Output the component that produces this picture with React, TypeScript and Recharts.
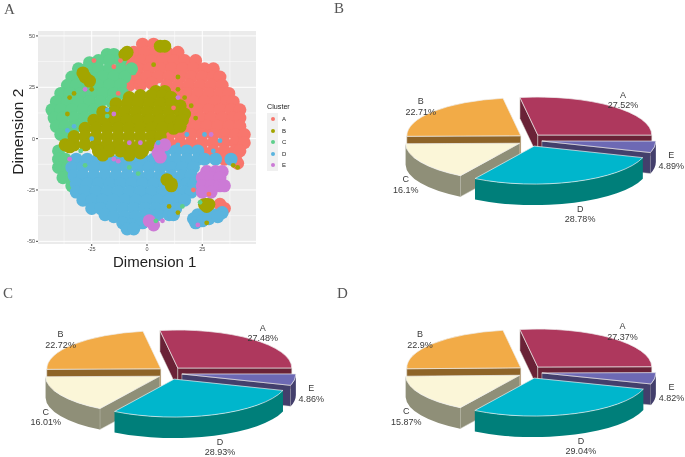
import React from 'react';
import { CartesianGrid, Pie, PieChart, Scatter, ScatterChart, XAxis, YAxis } from 'recharts';

type Pt = [number, number];

const clusterNames = ['A', 'B', 'C', 'D', 'E'];
const clusterColors: Record<string, string> = { A: '#F8766D', B: '#A3A500', C: '#5FCF8C', D: '#5AB4DE', E: '#CC7AD6' };

const xTicks = [-25, 0, 25];
const yTicks = [-50, -25, 0, 25, 50];
const xMinor = [-37.5, -12.5, 12.5, 37.5];
const yMinor = [-37.5, -12.5, 12.5, 37.5];

const clusterA: Pt[] = [
  [-2, 46], [3, 46],
  [-6, 42], [-1, 42], [4, 42], [9, 42], [14, 42],
  [-8, 38], [-3, 38], [2, 38], [7, 38], [12, 38], [17, 38], [22, 38],
  [-9, 34], [-4, 34], [1, 34], [6, 34], [11, 34], [16, 34], [21, 34], [26, 34], [30, 34],
  [-10, 30], [-5, 30], [0, 30], [5, 30], [10, 30], [15, 30], [20, 30], [25, 30], [30, 30], [33, 30],
  [-8, 26], [-3, 26], [2, 27], [9, 26], [14, 26], [19, 26], [24, 26], [29, 26], [34, 26],
  [13, 22], [18, 22], [23, 22], [28, 22], [33, 22], [37, 22],
  [16, 18], [21, 18], [26, 18], [31, 18], [36, 18], [39, 18],
  [18, 14], [23, 14], [28, 14], [33, 14], [38, 14], [42, 14],
  [19, 10], [24, 10], [29, 10], [34, 10], [39, 10], [42, 10],
  [17, 6], [22, 6], [27, 6], [32, 6], [37, 6], [42, 6],
  [10, 2], [15, 2], [20, 2], [25, 2], [30, 2], [35, 2], [40, 2], [44, 2],
  [10, -2], [15, -2], [20, -2], [25, -2], [30, -2], [35, -2], [40, -2], [44, -2],
  [25, -6], [30, -6], [35, -6], [40, -6], [42, -6],
  [35, -10], [40, -10], [41, -12],
  [33, -32], [35, -34],
];

const clusterC: Pt[] = [
  [-18, 41], [-15, 41],
  [-26, 37], [-22, 38], [-17, 38], [-12, 38],
  [-31, 34], [-27, 34], [-22, 34], [-17, 34], [-12, 34], [-7, 34],
  [-34, 30], [-30, 30], [-25, 30], [-20, 30], [-15, 30], [-10, 30],
  [-36, 26], [-32, 26], [-27, 26], [-22, 26], [-17, 26], [-12, 26],
  [-39, 22], [-35, 22], [-30, 22], [-25, 22], [-20, 22], [-15, 22], [-11, 22],
  [-41, 18], [-36, 18], [-31, 18], [-26, 18], [-21, 18], [-16, 18],
  [-43, 14], [-39, 14], [-34, 14], [-29, 14], [-24, 14],
  [-42, 10], [-38, 10], [-33, 10], [-28, 10],
  [-41, 6], [-37, 6], [-32, 6],
  [-39, 2], [-36, 2],
  [-40, -6],
  [-40, -10], [-37, -10],
  [-40, -14], [-36, -14],
  [-38, -19], [-34, -19],
  [-34, -23],
];

const clusterD: Pt[] = [
  [8, -6], [13, -6], [18, -6], [23, -6],
  [-32, -10], [-27, -10], [-22, -10], [-17, -10], [-12, -10], [-7, -10], [-2, -10], [3, -10], [8, -10], [13, -10], [18, -10], [23, -10], [26, -10], [31, -10], [38, -10],
  [-34, -14], [-29, -14], [-24, -14], [-19, -14], [-14, -14], [-9, -14], [-4, -14], [1, -14], [6, -14], [11, -14], [16, -14], [21, -14],
  [-33, -18], [-29, -18], [-24, -18], [-19, -18], [-14, -18], [-9, -18], [-4, -18], [1, -18], [6, -18], [11, -18], [16, -18], [20, -18],
  [-32, -22], [-27, -22], [-22, -22], [-17, -22], [-12, -22], [-7, -22], [-2, -22], [3, -22], [8, -22], [13, -22], [18, -22], [21, -22],
  [-32, -26], [-28, -26], [-23, -26], [-18, -26], [-13, -26], [-8, -26], [-3, -26], [2, -26], [7, -26], [12, -26], [17, -26], [20, -26],
  [-29, -30], [-25, -30], [-20, -30], [-15, -30], [-10, -30], [-5, -30], [0, -30], [5, -30], [10, -30], [15, -30], [17, -30],
  [-25, -34], [-21, -34], [-16, -34], [-11, -34], [-6, -34], [-1, -34], [4, -34], [9, -34], [13, -34],
  [-19, -37], [-15, -38], [-10, -38], [-5, -38], [0, -37], [5, -37], [10, -37], [12, -37],
  [-11, -41], [-7, -42], [-2, -41],
  [-9, -44], [-6, -44],
  [21, -39], [23, -37], [26, -36], [30, -37], [34, -36], [22, -41], [25, -40], [28, -39], [32, -38],
];

const clusterB: Pt[] = [
  [4, 23], [8, 23],
  [-8, 20], [-3, 21], [2, 21], [7, 21], [11, 20],
  [-14, 17], [-9, 17], [-4, 17], [1, 17], [6, 17], [11, 17], [15, 16],
  [-20, 13], [-15, 13], [-10, 13], [-5, 13], [0, 13], [5, 13], [10, 13], [15, 13], [17, 12],
  [-24, 9], [-19, 9], [-14, 9], [-9, 9], [-4, 9], [1, 9], [6, 9], [11, 9], [16, 9],
  [-28, 5], [-23, 5], [-18, 5], [-13, 5], [-8, 5], [-3, 5], [2, 5], [7, 5], [12, 5], [15, 6],
  [-33, 1], [-28, 1], [-23, 1], [-18, 1], [-13, 1], [-8, 1], [-3, 1], [2, 1], [6, 1],
  [-37, -3], [-33, -3], [-28, -3], [-23, -3], [-18, -3], [-13, -3], [-8, -3], [-3, -3], [2, -3], [5, -3],
  [-35, -4], [-22, -6], [-17, -6], [-12, -6], [-7, -6], [-2, -6],
  [-20, -8], [-8, -8], [-3, -7],
  [-28, 30], [-26, 28], [-29, 32],
  [6, 45], [8, 45], [-10, 41], [-9, 42],
  [9, -20], [11, -22], [11, -23],
  [26, -32], [28, -32], [27, -33],
];

const clusterE: Pt[] = [
  [27, -16], [31, -16], [34, -16],
  [25, -19], [29, -19], [33, -19],
  [25, -23], [29, -23], [33, -23], [35, -23],
  [25, -26], [29, -26],
  [6, -4], [8, -3], [5, -7], [6, -9],
  [1, -40], [3, -42],
];

const specksA: Pt[] = [[-12, 38], [-15, 35], [12, 15], [-13, 22], [-24, 38], [28, -27], [21, -25], [-5, 26]];
const specksB: Pt[] = [[14, 24], [20, 16], [17, 20], [22, 10], [14, 30], [39, -13], [41, -14], [3, 36], [-35, 20], [-36, 12], [-33, 22], [14, -36], [27, -41], [10, -33], [-25, 24]];
const specksC: Pt[] = [[-30, -6], [-28, -13], [-8, -14], [-4, -17], [4, -40], [16, -33], [24, -31], [-18, 11], [-6, 32]];
const specksD: Pt[] = [[-33, 6], [-18, 14], [-36, 4], [26, 2], [33, -1], [30, -6], [14, -3], [18, 2], [5, -2], [-25, 0]];
const specksE: Pt[] = [[-28, 24], [-15, -10], [-13, -11], [-8, -2], [-3, -2], [14, 20], [29, 2], [-35, -10], [-15, 12], [23, -42], [7, -40]];

const sliceNames = ['A', 'E', 'D', 'C', 'B'];
const sharesB = [27.52, 4.89, 28.78, 16.1, 22.71];
const sharesC = [27.48, 4.86, 28.93, 16.01, 22.72];
const sharesD = [27.37, 4.82, 29.04, 15.87, 22.9];

// painted back to front, not in the order the slices go round the pie
const paintOrder = ['A', 'B', 'C', 'E', 'D'];

const topColors: Record<string, string> = { A: '#AE385D', E: '#6D69B4', D: '#00B6CC', C: '#FBF6D8', B: '#F2AB47' };
const wallColors: Record<string, string> = { A: '#6A2237', E: '#433F6C', D: '#007F7A', C: '#8F8F78', B: '#8E6428' };

const RX = 114;
const RY = 38;
const DEPTH = 21;

const pt = (cx: number, cy: number, deg: number) => {
  const a = (deg * Math.PI) / 180;
  return [cx + RX * Math.cos(a), cy - RY * Math.sin(a)];
};

const sliceShape = (only: string) => (props: any) => {
  const { cx, cy, startAngle, endAngle, name } = props;
  if (name !== only) return <g />;
  const mid = ((startAngle + endAngle) / 2 * Math.PI) / 180;
  const ox = cx + 12 * Math.cos(mid);
  const oy = cy - 6.5 * Math.sin(mid);
  const [sx, sy] = pt(ox, oy, startAngle);
  const [ex, ey] = pt(ox, oy, endAngle);
  const wallFrom = Math.min(startAngle, 0);
  const wallTo = Math.max(endAngle, -180);
  const [wx0, wy0] = pt(ox, oy, wallFrom);
  const [wx1, wy1] = pt(ox, oy, wallTo);
  const wall = wallColors[only];
  const startVisible = Math.sin(((startAngle + 90) * Math.PI) / 180) < 0;
  const endVisible = Math.sin(((endAngle - 90) * Math.PI) / 180) < 0;
  return (
    <g>
      {startVisible && (
        <path d={`M${ox},${oy} L${sx},${sy} L${sx},${sy + DEPTH} L${ox},${oy + DEPTH} Z`} fill={wall} stroke="#d8d8d0" strokeWidth={0.5} />
      )}
      {endVisible && (
        <path d={`M${ox},${oy} L${ex},${ey} L${ex},${ey + DEPTH} L${ox},${oy + DEPTH} Z`} fill={wall} stroke="#d8d8d0" strokeWidth={0.5} />
      )}
      {wallFrom > wallTo && (
        <path
          d={`M${wx0},${wy0} A${RX},${RY} 0 0 1 ${wx1},${wy1} L${wx1},${wy1 + DEPTH} A${RX},${RY} 0 0 0 ${wx0},${wy0 + DEPTH} Z`}
          fill={wall}
        />
      )}
      <path
        d={`M${ox},${oy} L${sx},${sy} A${RX},${RY} 0 0 1 ${ex},${ey} Z`}
        fill={topColors[only]}
        stroke="#eeeeee"
        strokeWidth={0.7}
      />
    </g>
  );
};

const pieLabel = (props: any) => {
  const { cx, cy, midAngle, name, value } = props;
  const a = (midAngle * Math.PI) / 180;
  const s = Math.sin(a);
  const x = cx + 143 * Math.cos(a);
  // front labels sit lower because of the wall
  const y = cy - 59 * s + (s < 0 ? 5.5 - 9 * s : 0);
  return (
    <text x={x} y={y} textAnchor="middle" fontSize={9} fontFamily="Liberation Sans" fill="#3a3a3a">
      <tspan x={x} dy={2.5}>{name}</tspan>
      <tspan x={x} dy={10.8}>{value}%</tspan>
    </text>
  );
};

const PiePanel = ({ shares, left, top }: { shares: number[]; left: number; top: number }) => {
  const data = sliceNames.map((name, i) => ({ name, value: shares[i] }));
  return (
    <div style={{ position: 'absolute', left, top }}>
      <PieChart width={340} height={200} margin={{ top: 0, right: 0, bottom: 0, left: 0 }}>
        {paintOrder.map((layer, i) => (
          <Pie
            key={layer}
            data={data}
            dataKey="value"
            nameKey="name"
            cx={170}
            cy={100}
            outerRadius={RX}
            startAngle={99}
            endAngle={-261}
            stroke="none"
            shape={sliceShape(layer)}
            labelLine={false}
            label={i === paintOrder.length - 1 ? pieLabel : false}
            isAnimationActive={false}
          />
        ))}
      </PieChart>
    </div>
  );
};

const bigDot = (color: string) => (p: any) => <circle cx={p.cx} cy={p.cy} r={6.5} fill={color} />;
const smallDot = (color: string) => (p: any) => <circle cx={p.cx} cy={p.cy} r={2.4} fill={color} />;
const toRows = (pts: Pt[]) => pts.map(([x, y]) => ({ x, y }));

const clusterLegend = (
  <div style={{ position: 'absolute', left: 267, top: 102, fontFamily: 'Liberation Sans', color: '#222' }}>
    <div style={{ fontSize: 7.2, height: 11, lineHeight: '10px' }}>Cluster</div>
    <div style={{ width: 11, background: '#F0F0F0', position: 'relative', height: 58 }}>
      {clusterNames.map((n, i) => (
        <React.Fragment key={n}>
          <div style={{ position: 'absolute', left: 3.5, top: 4.3 + i * 11.5, width: 4, height: 4, borderRadius: 2, background: clusterColors[n] }} />
          <div style={{ position: 'absolute', left: 15, top: 2.3 + i * 11.5, fontSize: 6, lineHeight: '8px' }}>{n}</div>
        </React.Fragment>
      ))}
    </div>
  </div>
);

const panelLetter = (text: string, left: number, top: number) => (
  <div style={{ position: 'absolute', left, top, fontFamily: 'Liberation Serif', fontSize: 15, lineHeight: '17px', color: '#555' }}>{text}</div>
);

const axisTitle = (value: string, x: number, y: number, rotate: number, size: number) => () => (
  <text x={x} y={y} transform={`rotate(${rotate} ${x} ${y})`} textAnchor="middle" dominantBaseline="central" fontSize={size} fill="#222" fontFamily="Liberation Sans">
    {value}
  </text>
);

export default function App() {
  const tick = { fontSize: 5.5, fill: '#4d4d4d', fontFamily: 'Liberation Sans' };
  return (
    <div style={{ position: 'absolute', left: 0, top: 0, width: 685, height: 457, background: '#fff', overflow: 'hidden', filter: 'blur(0.4px)' }}>
      {panelLetter('A', 4, 1)}
      {panelLetter('B', 334, 0)}
      {panelLetter('C', 3, 285)}
      {panelLetter('D', 337, 285)}
      <div style={{ position: 'absolute', left: 0, top: 0 }}>
        <ScatterChart width={300} height={280} margin={{ left: 8, top: 31, right: 44, bottom: 16 }}>
          <CartesianGrid fill="#EBEBEB" stroke="#ffffff" strokeWidth={0.5} horizontalValues={yMinor} verticalValues={xMinor} />
          <CartesianGrid stroke="#ffffff" strokeWidth={1} horizontalValues={yTicks} verticalValues={xTicks} />
          <XAxis
            type="number"
            dataKey="x"
            domain={[-49.3, 49.3]}
            ticks={xTicks}
            axisLine={false}
            tickSize={2}
            tickMargin={1}
            height={20}
            tick={tick}
            stroke="#444"
            allowDataOverflow
            label={{ content: axisTitle('Dimension 1', 154.7, 261, 0, 15) }}
          />
          <YAxis
            type="number"
            dataKey="y"
            domain={[-51.3, 52.4]}
            ticks={yTicks}
            axisLine={false}
            tickSize={2}
            tickMargin={1}
            width={30}
            tick={tick}
            stroke="#444"
            allowDataOverflow
            label={{ content: axisTitle('Dimension 2', 17.5, 131.7, -90, 15.5) }}
          />
          <Scatter data={toRows(clusterA)} shape={bigDot(clusterColors.A)} isAnimationActive={false} />
          <Scatter data={toRows(clusterC)} shape={bigDot(clusterColors.C)} isAnimationActive={false} />
          <Scatter data={toRows(clusterD)} shape={bigDot(clusterColors.D)} isAnimationActive={false} />
          <Scatter data={toRows(clusterB)} shape={bigDot(clusterColors.B)} isAnimationActive={false} />
          <Scatter data={toRows(clusterE)} shape={bigDot(clusterColors.E)} isAnimationActive={false} />
          <Scatter data={toRows(specksA)} shape={smallDot(clusterColors.A)} isAnimationActive={false} />
          <Scatter data={toRows(specksB)} shape={smallDot(clusterColors.B)} isAnimationActive={false} />
          <Scatter data={toRows(specksC)} shape={smallDot(clusterColors.C)} isAnimationActive={false} />
          <Scatter data={toRows(specksD)} shape={smallDot(clusterColors.D)} isAnimationActive={false} />
          <Scatter data={toRows(specksE)} shape={smallDot(clusterColors.E)} isAnimationActive={false} />
        </ScatterChart>
      </div>
      {clusterLegend}
      <PiePanel shares={sharesB} left={360} top={40} />
      <PiePanel shares={sharesC} left={0} top={273} />
      <PiePanel shares={sharesD} left={360} top={272} />
    </div>
  );
}
